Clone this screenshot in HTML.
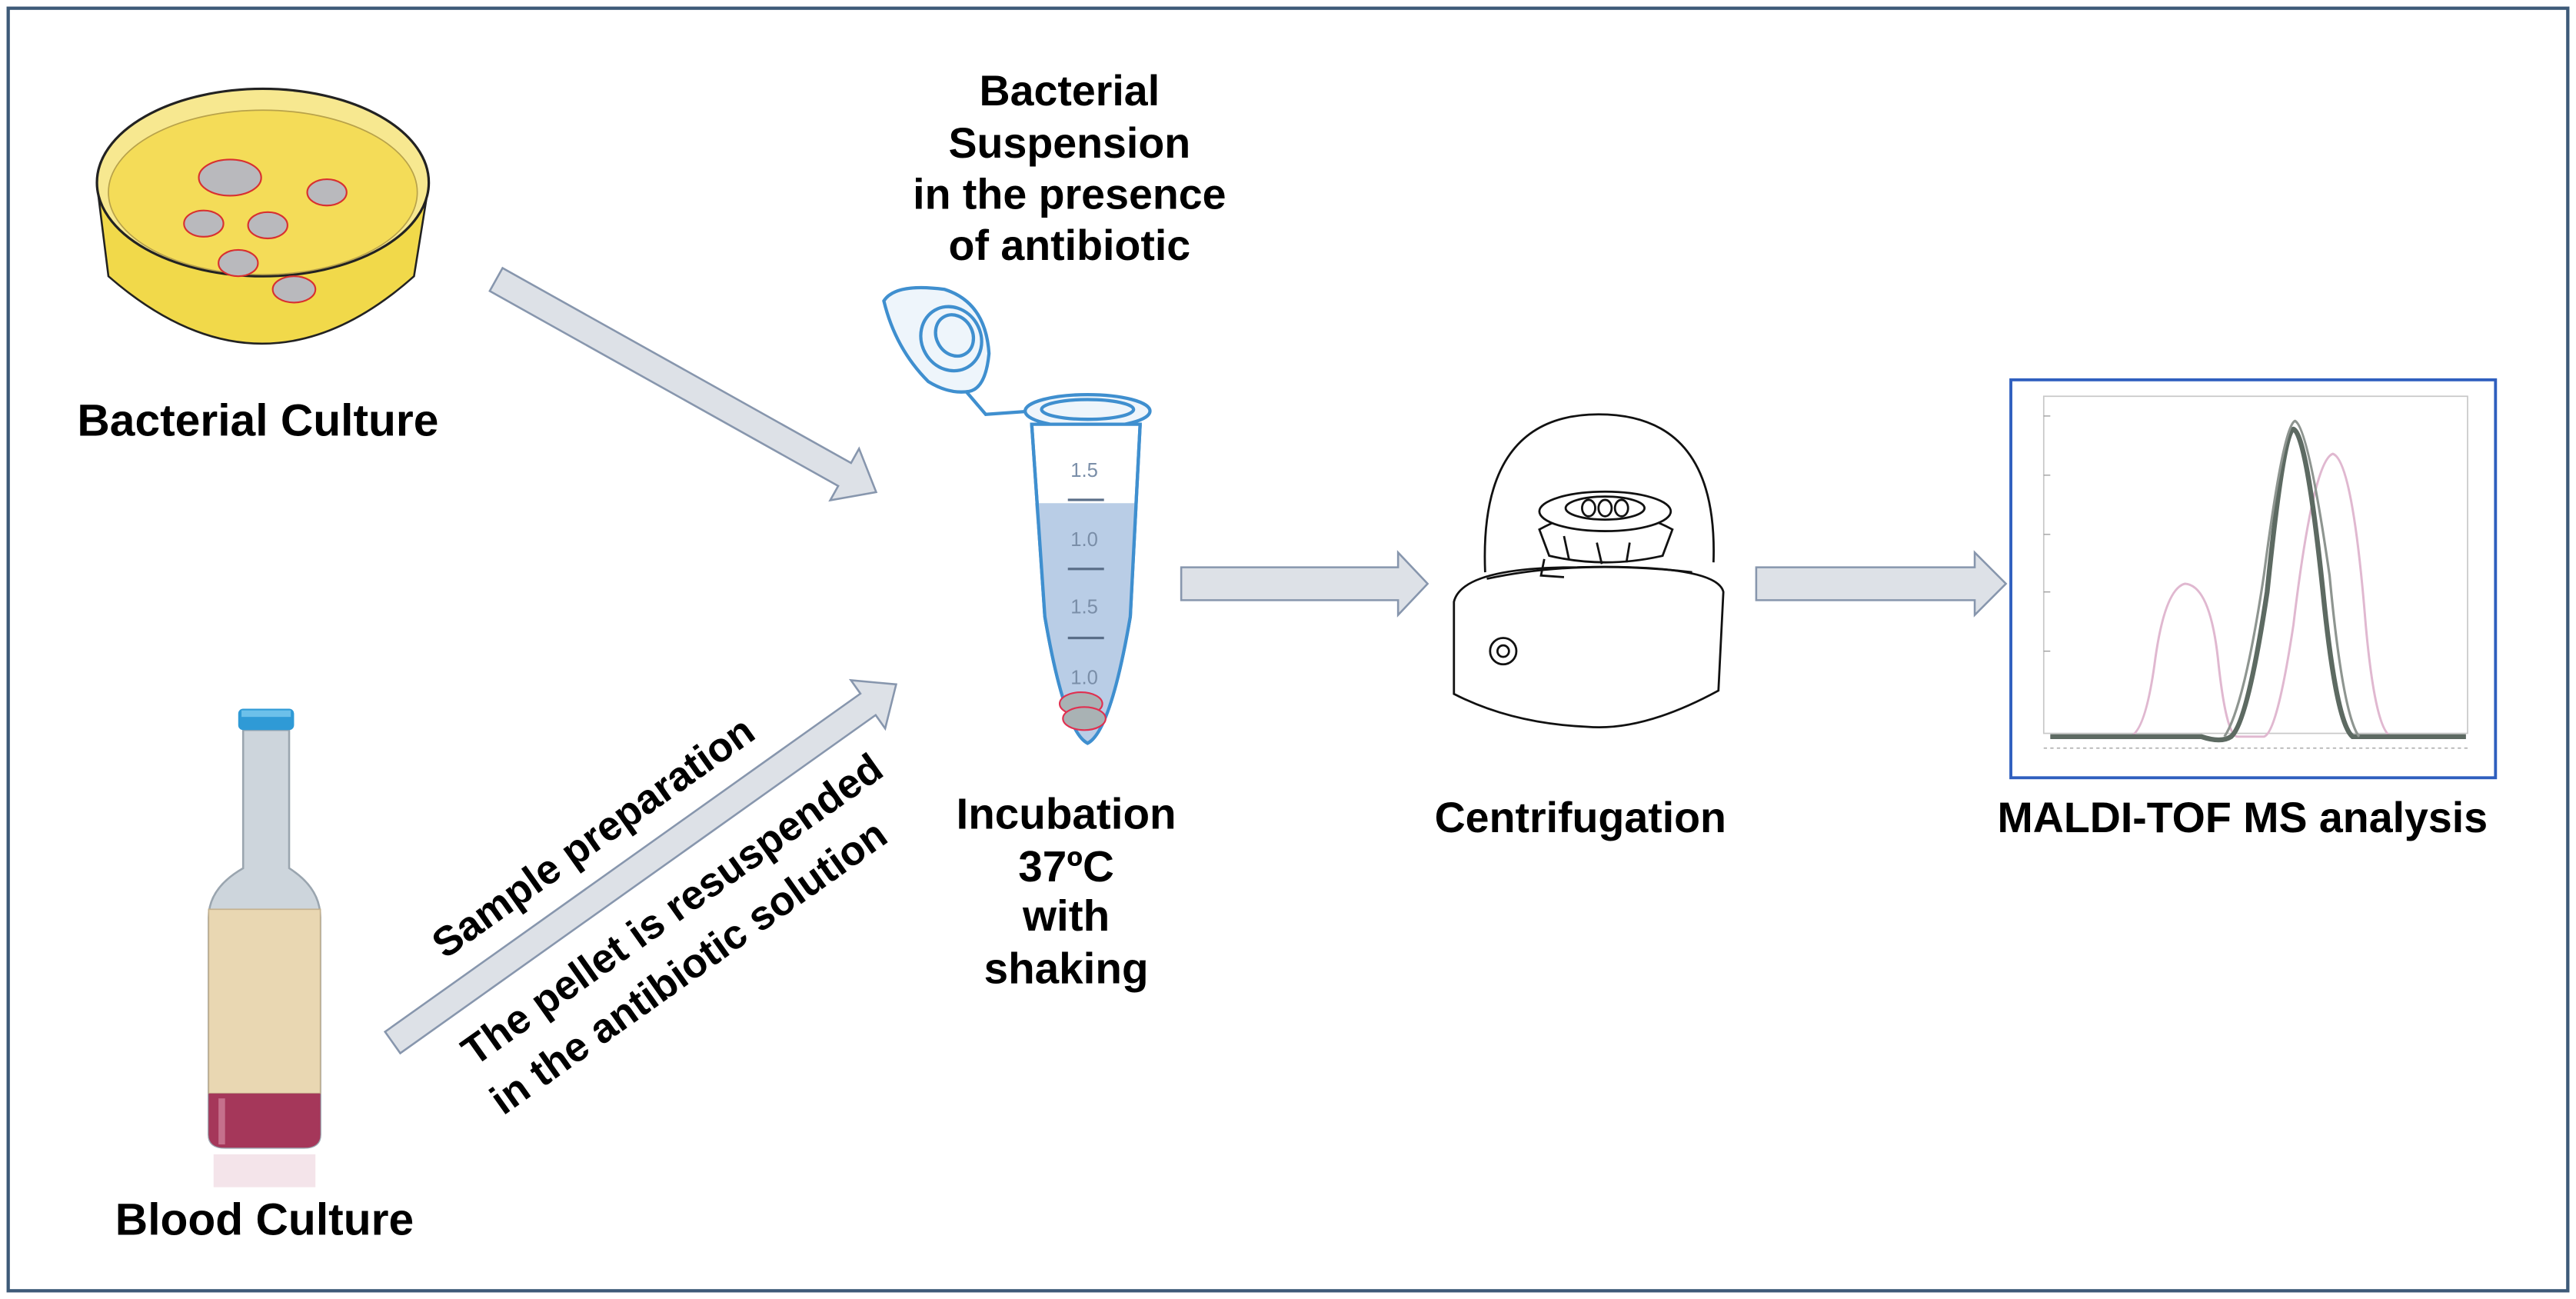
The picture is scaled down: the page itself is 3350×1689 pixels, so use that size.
<!DOCTYPE html>
<html><head><meta charset="utf-8"><style>
html,body{margin:0;padding:0;background:#fff;}
svg{display:block;}
text{font-family:"Liberation Sans",Arial,sans-serif;font-weight:bold;fill:#000;}
</style></head><body>
<svg width="3350" height="1689" viewBox="0 0 1568 790" preserveAspectRatio="none" xmlns="http://www.w3.org/2000/svg">
<rect x="0" y="0" width="1568" height="790" fill="#fff"/>
<rect x="5" y="5" width="1558" height="780" fill="none" stroke="#3d5a78" stroke-width="2"/>

<!-- Petri dish -->
<path d="M59,112 L66,168 Q160,250 252,168 L261,112 Z" fill="#f1d94a" stroke="#222" stroke-width="1.2"/>
<ellipse cx="160" cy="111" rx="101" ry="57" fill="#f7e890" stroke="#222" stroke-width="1.5"/>
<ellipse cx="160" cy="117" rx="94" ry="50" fill="#f4dc58" stroke="#b8a24a" stroke-width="0.8"/>
<g fill="#b9b9bd" stroke="#d83030" stroke-width="1">
<ellipse cx="140" cy="108" rx="19" ry="11"/>
<ellipse cx="199" cy="117" rx="12" ry="8"/>
<ellipse cx="124" cy="136" rx="12" ry="8"/>
<ellipse cx="163" cy="137" rx="12" ry="8"/>
<ellipse cx="145" cy="160" rx="12" ry="8"/>
<ellipse cx="179" cy="176" rx="13" ry="8"/>
</g>
<text x="157" y="265" font-size="27.5" text-anchor="middle">Bacterial Culture</text>

<!-- Arrow 1 -->
<g transform="translate(302,170) rotate(29.2)">
<path d="M0,-8 L243,-8 L243,-18 L265,0 L243,18 L243,8 L0,8 Z" fill="#dde1e7" stroke="#8796ad" stroke-width="1.2"/>
</g>

<!-- Top text -->
<g font-size="26" text-anchor="middle">
<text x="651" y="64">Bacterial</text>
<text x="651" y="96">Suspension</text>
<text x="651" y="127">in the presence</text>
<text x="651" y="158">of antibiotic</text>
</g>

<!-- Tube -->
<g stroke="#3f8fcf" stroke-width="2" fill="none">
<path d="M538,183 Q545,172 575,176 Q600,184 602,215 Q600,236 590,238 Q578,240 565,232 Q545,212 538,183 Z" fill="#eef5fb"/>
<ellipse cx="579" cy="206" rx="18" ry="20" transform="rotate(-30 579 206)"/>
<ellipse cx="581" cy="204" rx="11" ry="13" transform="rotate(-30 581 204)"/>
<path d="M588,238 L600,252 L628,250"/>
<ellipse cx="662" cy="250" rx="38" ry="10" fill="#eef5fb"/>
<ellipse cx="662" cy="249" rx="28" ry="6"/>
<path d="M628,258 L636,375 Q648,445 662,452 Q676,445 688,375 L694,258 Z" fill="#fff"/>
<path d="M630,306 L692,306 L688,375 Q676,445 662,452 Q648,445 636,375 Z" fill="#b9cde6" stroke="none"/>
<path d="M628,258 L636,375 Q648,445 662,452 Q676,445 688,375 L694,258"/>
</g>
<g font-size="12" text-anchor="middle">
<text x="660" y="290" style="font-weight:normal;fill:#7a8ea8">1.5</text>
<text x="660" y="332" style="font-weight:normal;fill:#7a8ea8">1.0</text>
<text x="660" y="373" style="font-weight:normal;fill:#7a8ea8">1.5</text>
<text x="660" y="416" style="font-weight:normal;fill:#7a8ea8">1.0</text>
</g>
<g stroke="#5a6e88" stroke-width="1.5">
<line x1="650" y1="304" x2="672" y2="304"/>
<line x1="650" y1="346" x2="672" y2="346"/>
<line x1="650" y1="388" x2="672" y2="388"/>
</g>
<ellipse cx="658" cy="428" rx="13" ry="7" fill="#a9b2b4" stroke="#e03050" stroke-width="1"/>
<ellipse cx="660" cy="437" rx="13" ry="7" fill="#a9b2b4" stroke="#e03050" stroke-width="1"/>

<g font-size="26.5" text-anchor="middle">
<text x="649" y="504">Incubation</text>
<text x="649" y="536">37ºC</text>
<text x="649" y="566">with</text>
<text x="649" y="598">shaking</text>
</g>

<!-- Bottle -->
<path d="M148,444 L148,528 Q127,540 127,558 L127,690 Q127,698 137,698 L185,698 Q195,698 195,690 L195,558 Q195,540 176,528 L176,444 Z" fill="#cdd5dc" stroke="#9aa5af" stroke-width="1.2"/>
<rect x="127" y="553" width="68" height="112" fill="#e9d7b2" stroke="#c4b290" stroke-width="0.8"/>
<path d="M127,665 L195,665 L195,690 Q195,698 185,698 L137,698 Q127,698 127,690 Z" fill="#a5375a"/>
<rect x="133" y="668" width="4" height="28" fill="#c5708c"/>
<rect x="145" y="431" width="34" height="13" rx="3" fill="#2f9ad6"/>
<rect x="147" y="432" width="30" height="4" fill="#6cc0ea"/>
<rect x="130" y="702" width="62" height="20" fill="#f4e4ea"/>
<text x="161" y="751" font-size="27.5" text-anchor="middle">Blood Culture</text>

<!-- Arrow 2 -->
<g transform="translate(239,634) rotate(-35.4)">
<path d="M0,-8 L355,-8 L355,-18 L376,0 L355,18 L355,8 L0,8 Z" fill="#dde1e7" stroke="#8796ad" stroke-width="1.2"/>
</g>
<g font-size="25">
<text transform="translate(366,516) rotate(-35.4)" text-anchor="middle">Sample preparation</text>
<text transform="translate(414,560) rotate(-35.4)" text-anchor="middle">The pellet is resuspended</text>
<text transform="translate(424,595) rotate(-35.4)" text-anchor="middle">in the antibiotic solution</text>
</g>

<!-- Arrow 3 -->
<path d="M719,345 L851,345 L851,336 L869,355 L851,374 L851,365 L719,365 Z" fill="#dde1e7" stroke="#8796ad" stroke-width="1.2"/>
<!-- Arrow 4 -->
<path d="M1069,345 L1202,345 L1202,336 L1221,355 L1202,374 L1202,365 L1069,365 Z" fill="#dde1e7" stroke="#8796ad" stroke-width="1.2"/>

<!-- Centrifuge -->
<g fill="none" stroke="#111" stroke-width="1.3">
<path d="M904,348 Q900,252 973,252 Q1046,252 1043,342"/>
<path d="M885,366 Q890,345 960,345 Q1045,343 1049,360 L1046,420 Q1000,445 966,442 Q920,440 885,422 Z" fill="#fff"/>
<path d="M905,352 Q960,340 1030,348"/>
<path d="M940,340 L938,350 L952,351"/>
<path d="M937,322 Q977,300 1018,322 L1012,338 Q977,346 943,338 Z" fill="#fff"/>
<ellipse cx="977" cy="311" rx="40" ry="12" fill="#fff"/>
<ellipse cx="977" cy="309" rx="24" ry="7"/>
<ellipse cx="967" cy="309" rx="4" ry="5"/><ellipse cx="977" cy="309" rx="4" ry="5"/><ellipse cx="987" cy="309" rx="4" ry="5"/>
<path d="M952,326 L955,340 M972,330 L975,343 M992,330 L990,342"/>
<circle cx="915" cy="396" r="8"/><circle cx="915" cy="396" r="3.5"/>
</g>
<text x="962" y="506" font-size="26" text-anchor="middle">Centrifugation</text>

<!-- Chart -->
<rect x="1224" y="231" width="295" height="242" fill="#fff" stroke="#2f5fbf" stroke-width="1.8"/>
<rect x="1244" y="241" width="258" height="205" fill="none" stroke="#c8c8c8" stroke-width="0.8"/>
<line x1="1244" y1="455" x2="1502" y2="455" stroke="#999" stroke-width="0.6" stroke-dasharray="2 2"/>
<g stroke="#999" stroke-width="0.6">
<line x1="1244" y1="253" x2="1248" y2="253"/><line x1="1244" y1="289" x2="1248" y2="289"/>
<line x1="1244" y1="325" x2="1248" y2="325"/><line x1="1244" y1="360" x2="1248" y2="360"/>
<line x1="1244" y1="396" x2="1248" y2="396"/>
</g>
<path d="M1248,448 L1296,448 Q1306,446 1312,400 Q1318,358 1330,355 Q1345,356 1350,400 Q1355,448 1362,448 L1378,448 Q1386,446 1396,380 Q1408,280 1420,276 Q1432,280 1440,380 Q1446,446 1456,448 L1501,448" fill="none" stroke="#e0b8d0" stroke-width="1.4"/>
<path d="M1248,448 L1340,448 Q1352,452 1358,448 Q1368,440 1380,360 Q1390,262 1396,261 Q1404,264 1414,360 Q1422,440 1432,448 L1501,448" fill="none" stroke="#5d6a62" stroke-width="3"/>
<path d="M1354,448 Q1366,430 1378,350 Q1390,258 1397,256 Q1405,260 1418,350 Q1426,435 1436,448" fill="none" stroke="#8e9590" stroke-width="1.5"/>
<text x="1365" y="506" font-size="26" text-anchor="middle">MALDI-TOF MS analysis</text>
</svg>
</body></html>
